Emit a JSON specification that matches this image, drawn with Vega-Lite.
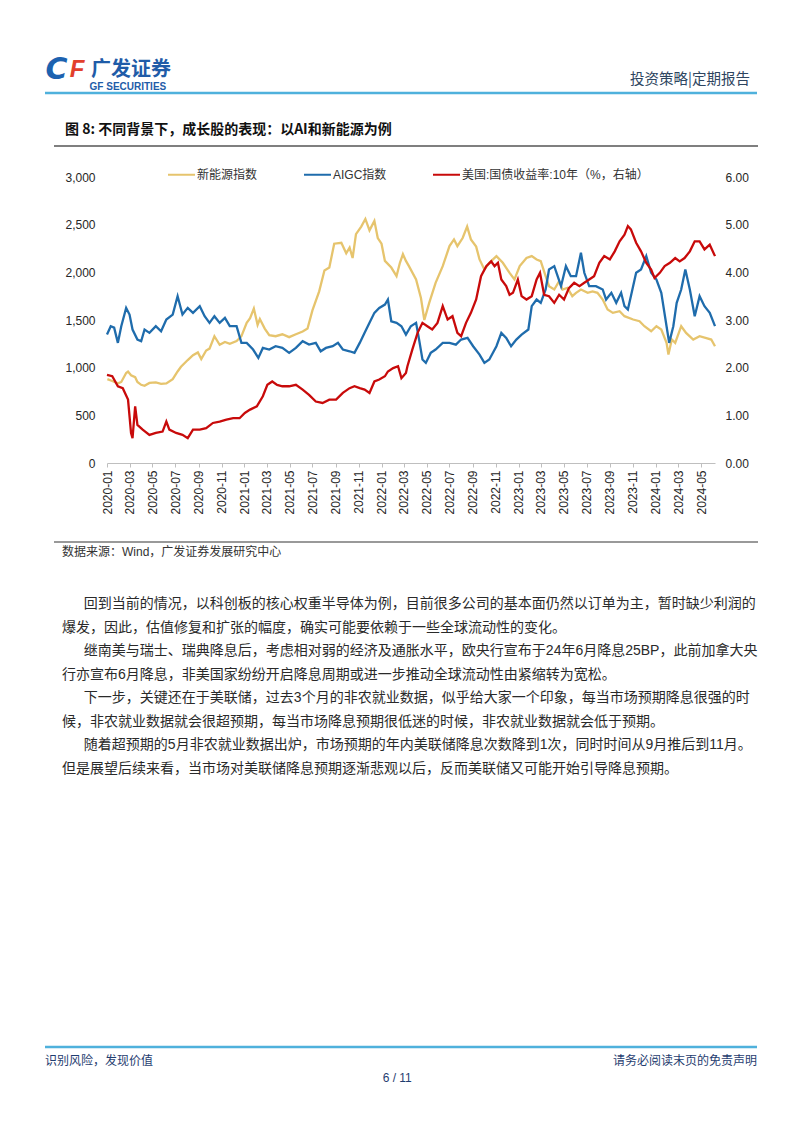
{
  "$schema": "https://vega.github.io/schema/vega-lite/v6.json",
  "background": "white",
  "padding": {"left": 43, "top": 45, "right": 0, "bottom": 0},
  "spacing": 0,
  "resolve": {"scale": {"color": "independent"}, "legend": {"color": "independent"}},
  "config": {
    "font": "Liberation Sans, Noto Sans CJK SC",
    "view": {"stroke": null},
    "axis": {"labelFont": "Liberation Sans, Noto Sans CJK SC", "labelColor": "#262626", "labelFontSize": 12},
    "legend": {"labelFont": "Liberation Sans, Noto Sans CJK SC", "labelColor": "#333333", "labelFontSize": 12}
  },
  "datasets": {
    "nev": [
      {"d":"2020/01/02","v":880},{"d":"2020/01/15","v":860},{"d":"2020/01/30","v":835},{"d":"2020/02/08","v":850},{"d":"2020/02/21","v":945},{"d":"2020/02/26","v":960},{"d":"2020/03/05","v":920},{"d":"2020/03/16","v":900},{"d":"2020/03/22","v":850},{"d":"2020/04/01","v":820},{"d":"2020/04/10","v":810},{"d":"2020/04/23","v":840},{"d":"2020/05/10","v":845},{"d":"2020/05/24","v":830},{"d":"2020/06/07","v":835},{"d":"2020/06/24","v":880},{"d":"2020/07/07","v":960},{"d":"2020/07/16","v":1010},{"d":"2020/08/03","v":1080},{"d":"2020/08/17","v":1130},{"d":"2020/08/30","v":1160},{"d":"2020/09/08","v":1090},{"d":"2020/09/21","v":1180},{"d":"2020/09/30","v":1200},{"d":"2020/10/13","v":1330},{"d":"2020/10/27","v":1240},{"d":"2020/11/10","v":1270},{"d":"2020/11/23","v":1250},{"d":"2020/12/11","v":1280},{"d":"2020/12/24","v":1330},
      {"d":"2021/01/07","v":1470},{"d":"2021/01/16","v":1520},{"d":"2021/01/26","v":1620},{"d":"2021/02/05","v":1450},{"d":"2021/02/11","v":1510},{"d":"2021/02/24","v":1410},{"d":"2021/03/08","v":1340},{"d":"2021/03/25","v":1330},{"d":"2021/04/12","v":1350},{"d":"2021/04/30","v":1320},{"d":"2021/05/18","v":1350},{"d":"2021/06/05","v":1380},{"d":"2021/06/18","v":1410},{"d":"2021/07/01","v":1600},{"d":"2021/07/19","v":1800},{"d":"2021/08/02","v":2020},{"d":"2021/08/15","v":2050},{"d":"2021/08/28","v":2300},{"d":"2021/09/16","v":2310},{"d":"2021/09/29","v":2200},{"d":"2021/10/08","v":2260},{"d":"2021/10/16","v":2150},{"d":"2021/10/25","v":2400},{"d":"2021/11/08","v":2480},{"d":"2021/11/19","v":2560},{"d":"2021/11/30","v":2440},{"d":"2021/12/13","v":2540},{"d":"2021/12/22","v":2360},
      {"d":"2022/01/01","v":2300},{"d":"2022/01/10","v":2120},{"d":"2022/01/27","v":2050},{"d":"2022/02/10","v":1960},{"d":"2022/02/19","v":2100},{"d":"2022/02/27","v":2190},{"d":"2022/03/07","v":2120},{"d":"2022/03/15","v":2065},{"d":"2022/04/03","v":1925},{"d":"2022/04/16","v":1730},{"d":"2022/04/25","v":1500},{"d":"2022/05/08","v":1680},{"d":"2022/05/25","v":1890},{"d":"2022/06/13","v":2065},{"d":"2022/07/01","v":2275},{"d":"2022/07/13","v":2345},{"d":"2022/07/22","v":2275},{"d":"2022/08/05","v":2360},{"d":"2022/08/17","v":2480},{"d":"2022/08/27","v":2345},{"d":"2022/09/10","v":2270},{"d":"2022/09/19","v":2135},{"d":"2022/10/02","v":2030},{"d":"2022/10/15","v":2100},{"d":"2022/11/03","v":2170},{"d":"2022/11/20","v":2100},{"d":"2022/12/08","v":1995},{"d":"2022/12/21","v":1925},
      {"d":"2023/01/04","v":2065},{"d":"2023/01/22","v":2150},{"d":"2023/02/05","v":2170},{"d":"2023/02/18","v":2135},{"d":"2023/03/01","v":2117},{"d":"2023/03/14","v":1960},{"d":"2023/03/23","v":1855},{"d":"2023/04/06","v":1820},{"d":"2023/04/19","v":1907},{"d":"2023/04/28","v":1820},{"d":"2023/05/11","v":1837},{"d":"2023/05/24","v":1750},{"d":"2023/06/03","v":1785},{"d":"2023/06/16","v":1820},{"d":"2023/07/04","v":1785},{"d":"2023/07/17","v":1800},{"d":"2023/07/30","v":1785},{"d":"2023/08/13","v":1715},{"d":"2023/08/26","v":1610},{"d":"2023/09/09","v":1575},{"d":"2023/09/27","v":1592},{"d":"2023/10/10","v":1540},{"d":"2023/11/02","v":1505},{"d":"2023/11/19","v":1487},{"d":"2023/12/02","v":1435},{"d":"2023/12/20","v":1382},
      {"d":"2024/01/03","v":1435},{"d":"2024/01/16","v":1400},{"d":"2024/01/30","v":1260},{"d":"2024/02/04","v":1137},{"d":"2024/02/13","v":1295},{"d":"2024/02/22","v":1260},{"d":"2024/03/09","v":1435},{"d":"2024/03/22","v":1365},{"d":"2024/04/10","v":1295},{"d":"2024/04/27","v":1330},{"d":"2024/05/15","v":1310},{"d":"2024/05/28","v":1295},{"d":"2024/06/07","v":1225}
    ],
    "aigc": [
      {"d":"2020/01/01","v":1347},{"d":"2020/01/11","v":1435},{"d":"2020/01/20","v":1420},{"d":"2020/01/30","v":1260},{"d":"2020/02/08","v":1435},{"d":"2020/02/21","v":1627},{"d":"2020/03/01","v":1557},{"d":"2020/03/09","v":1400},{"d":"2020/03/22","v":1295},{"d":"2020/04/01","v":1277},{"d":"2020/04/10","v":1400},{"d":"2020/04/23","v":1365},{"d":"2020/05/10","v":1435},{"d":"2020/05/24","v":1382},{"d":"2020/06/07","v":1505},{"d":"2020/06/24","v":1557},{"d":"2020/07/07","v":1750},{"d":"2020/07/20","v":1557},{"d":"2020/08/03","v":1627},{"d":"2020/08/17","v":1575},{"d":"2020/09/04","v":1645},{"d":"2020/09/17","v":1540},{"d":"2020/09/30","v":1470},{"d":"2020/10/13","v":1540},{"d":"2020/10/27","v":1470},{"d":"2020/11/10","v":1522},{"d":"2020/11/23","v":1435},{"d":"2020/12/11","v":1435},{"d":"2020/12/24","v":1260},
      {"d":"2021/01/07","v":1260},{"d":"2021/01/24","v":1190},{"d":"2021/02/07","v":1102},{"d":"2021/02/19","v":1207},{"d":"2021/03/08","v":1190},{"d":"2021/03/25","v":1225},{"d":"2021/04/12","v":1207},{"d":"2021/04/30","v":1155},{"d":"2021/05/18","v":1207},{"d":"2021/06/05","v":1277},{"d":"2021/06/22","v":1242},{"d":"2021/07/10","v":1260},{"d":"2021/07/23","v":1172},{"d":"2021/08/06","v":1207},{"d":"2021/08/24","v":1225},{"d":"2021/09/07","v":1260},{"d":"2021/09/20","v":1190},{"d":"2021/10/08","v":1172},{"d":"2021/10/21","v":1155},{"d":"2021/11/04","v":1260},{"d":"2021/11/17","v":1365},{"d":"2021/11/30","v":1470},{"d":"2021/12/13","v":1575},{"d":"2021/12/26","v":1627},
      {"d":"2022/01/10","v":1662},{"d":"2022/01/18","v":1715},{"d":"2022/01/27","v":1487},{"d":"2022/02/10","v":1470},{"d":"2022/02/23","v":1435},{"d":"2022/03/07","v":1347},{"d":"2022/03/20","v":1435},{"d":"2022/04/03","v":1470},{"d":"2022/04/11","v":1295},{"d":"2022/04/20","v":1085},{"d":"2022/04/29","v":1050},{"d":"2022/05/12","v":1155},{"d":"2022/05/25","v":1190},{"d":"2022/06/13","v":1260},{"d":"2022/07/01","v":1260},{"d":"2022/07/18","v":1242},{"d":"2022/08/01","v":1295},{"d":"2022/08/18","v":1312},{"d":"2022/09/02","v":1225},{"d":"2022/09/19","v":1137},{"d":"2022/10/02","v":1050},{"d":"2022/10/15","v":1085},{"d":"2022/11/03","v":1225},{"d":"2022/11/16","v":1365},{"d":"2022/11/29","v":1312},{"d":"2022/12/12","v":1225},{"d":"2022/12/26","v":1295},
      {"d":"2023/01/09","v":1347},{"d":"2023/01/27","v":1400},{"d":"2023/02/05","v":1645},{"d":"2023/02/18","v":1715},{"d":"2023/03/01","v":1680},{"d":"2023/03/14","v":1820},{"d":"2023/03/23","v":2030},{"d":"2023/04/06","v":2065},{"d":"2023/04/15","v":1960},{"d":"2023/04/24","v":1855},{"d":"2023/05/07","v":2065},{"d":"2023/05/20","v":1960},{"d":"2023/06/03","v":1960},{"d":"2023/06/16","v":2205},{"d":"2023/06/25","v":1995},{"d":"2023/07/08","v":1855},{"d":"2023/07/26","v":1855},{"d":"2023/08/13","v":1820},{"d":"2023/08/22","v":1715},{"d":"2023/09/05","v":1785},{"d":"2023/09/18","v":1680},{"d":"2023/10/01","v":1785},{"d":"2023/10/10","v":1645},{"d":"2023/10/19","v":1610},{"d":"2023/10/27","v":1750},{"d":"2023/11/10","v":1995},{"d":"2023/11/23","v":2030},{"d":"2023/12/07","v":2170},{"d":"2023/12/20","v":1995},
      {"d":"2024/01/03","v":1925},{"d":"2024/01/16","v":1785},{"d":"2024/01/30","v":1435},{"d":"2024/02/06","v":1260},{"d":"2024/02/17","v":1435},{"d":"2024/02/26","v":1680},{"d":"2024/03/09","v":1820},{"d":"2024/03/20","v":2030},{"d":"2024/04/01","v":1820},{"d":"2024/04/14","v":1540},{"d":"2024/04/27","v":1750},{"d":"2024/05/10","v":1645},{"d":"2024/05/24","v":1575},{"d":"2024/06/07","v":1435}
    ],
    "ust": [
      {"d":"2020/01/01","v":1.85},{"d":"2020/01/15","v":1.82},{"d":"2020/01/30","v":1.61},{"d":"2020/02/12","v":1.57},{"d":"2020/02/26","v":1.33},{"d":"2020/03/05","v":0.63},{"d":"2020/03/09","v":0.52},{"d":"2020/03/16","v":1.19},{"d":"2020/03/22","v":0.80},{"d":"2020/04/05","v":0.70},{"d":"2020/04/23","v":0.59},{"d":"2020/05/10","v":0.63},{"d":"2020/05/28","v":0.66},{"d":"2020/06/07","v":0.87},{"d":"2020/06/15","v":0.70},{"d":"2020/07/03","v":0.63},{"d":"2020/07/20","v":0.59},{"d":"2020/08/03","v":0.52},{"d":"2020/08/17","v":0.70},{"d":"2020/09/04","v":0.70},{"d":"2020/09/21","v":0.73},{"d":"2020/10/09","v":0.84},{"d":"2020/10/27","v":0.87},{"d":"2020/11/14","v":0.91},{"d":"2020/12/02","v":0.94},{"d":"2020/12/19","v":0.94},
      {"d":"2021/01/02","v":1.05},{"d":"2021/01/16","v":1.12},{"d":"2021/02/03","v":1.19},{"d":"2021/02/19","v":1.40},{"d":"2021/03/03","v":1.64},{"d":"2021/03/16","v":1.71},{"d":"2021/03/29","v":1.64},{"d":"2021/04/12","v":1.61},{"d":"2021/04/30","v":1.61},{"d":"2021/05/18","v":1.64},{"d":"2021/06/05","v":1.54},{"d":"2021/06/22","v":1.43},{"d":"2021/07/10","v":1.29},{"d":"2021/07/28","v":1.26},{"d":"2021/08/15","v":1.33},{"d":"2021/09/02","v":1.33},{"d":"2021/09/20","v":1.47},{"d":"2021/10/08","v":1.57},{"d":"2021/10/21","v":1.61},{"d":"2021/11/04","v":1.57},{"d":"2021/11/17","v":1.54},{"d":"2021/11/30","v":1.47},{"d":"2021/12/13","v":1.71},{"d":"2021/12/26","v":1.75},
      {"d":"2022/01/10","v":1.82},{"d":"2022/01/18","v":1.92},{"d":"2022/02/01","v":1.99},{"d":"2022/02/14","v":2.03},{"d":"2022/02/23","v":1.78},{"d":"2022/03/07","v":1.89},{"d":"2022/03/11","v":2.03},{"d":"2022/03/24","v":2.38},{"d":"2022/04/07","v":2.73},{"d":"2022/04/20","v":2.94},{"d":"2022/05/03","v":2.87},{"d":"2022/05/16","v":2.80},{"d":"2022/05/30","v":2.94},{"d":"2022/06/13","v":3.29},{"d":"2022/06/26","v":3.01},{"d":"2022/07/09","v":3.08},{"d":"2022/07/22","v":2.73},{"d":"2022/08/01","v":2.66},{"d":"2022/08/14","v":2.94},{"d":"2022/08/27","v":3.15},{"d":"2022/09/10","v":3.43},{"d":"2022/09/23","v":3.92},{"d":"2022/10/07","v":4.13},{"d":"2022/10/20","v":4.23},{"d":"2022/10/29","v":4.13},{"d":"2022/11/07","v":4.20},{"d":"2022/11/16","v":3.85},{"d":"2022/11/29","v":3.71},{"d":"2022/12/08","v":3.53},{"d":"2022/12/17","v":3.57},{"d":"2022/12/30","v":3.85},
      {"d":"2023/01/09","v":3.50},{"d":"2023/01/22","v":3.43},{"d":"2023/02/05","v":3.50},{"d":"2023/02/18","v":3.85},{"d":"2023/02/27","v":3.99},{"d":"2023/03/10","v":3.53},{"d":"2023/03/23","v":3.50},{"d":"2023/04/06","v":3.36},{"d":"2023/04/19","v":3.53},{"d":"2023/05/02","v":3.43},{"d":"2023/05/15","v":3.67},{"d":"2023/05/29","v":3.78},{"d":"2023/06/12","v":3.71},{"d":"2023/06/25","v":3.78},{"d":"2023/07/08","v":3.85},{"d":"2023/07/21","v":3.92},{"d":"2023/08/04","v":4.20},{"d":"2023/08/17","v":4.34},{"d":"2023/09/01","v":4.27},{"d":"2023/09/14","v":4.44},{"d":"2023/09/27","v":4.65},{"d":"2023/10/10","v":4.79},{"d":"2023/10/19","v":4.97},{"d":"2023/10/27","v":4.90},{"d":"2023/11/10","v":4.62},{"d":"2023/11/23","v":4.44},{"d":"2023/12/07","v":4.20},{"d":"2023/12/20","v":4.06},{"d":"2023/12/29","v":3.88},
      {"d":"2024/01/12","v":3.99},{"d":"2024/01/25","v":4.13},{"d":"2024/02/08","v":4.20},{"d":"2024/02/22","v":4.30},{"d":"2024/03/05","v":4.23},{"d":"2024/03/18","v":4.30},{"d":"2024/04/01","v":4.44},{"d":"2024/04/14","v":4.65},{"d":"2024/04/27","v":4.65},{"d":"2024/05/10","v":4.48},{"d":"2024/05/24","v":4.58},{"d":"2024/06/07","v":4.34}
    ],
    "body": [
      {"line":1,"first":true,"text":"回到当前的情况，以科创板的核心权重半导体为例，目前很多公司的基本面仍然以订单为主，暂时缺少利润的"},
      {"line":2,"first":false,"text":"爆发，因此，估值修复和扩张的幅度，确实可能要依赖于一些全球流动性的变化。"},
      {"line":3,"first":true,"text":"继南美与瑞士、瑞典降息后，考虑相对弱的经济及通胀水平，欧央行宣布于24年6月降息25BP，此前加拿大央"},
      {"line":4,"first":false,"text":"行亦宣布6月降息，非美国家纷纷开启降息周期或进一步推动全球流动性由紧缩转为宽松。"},
      {"line":5,"first":true,"text":"下一步，关键还在于美联储，过去3个月的非农就业数据，似乎给大家一个印象，每当市场预期降息很强的时"},
      {"line":6,"first":false,"text":"候，非农就业数据就会很超预期，每当市场降息预期很低迷的时候，非农就业数据就会低于预期。"},
      {"line":7,"first":true,"text":"随着超预期的5月非农就业数据出炉，市场预期的年内美联储降息次数降到1次，同时时间从9月推后到11月。"},
      {"line":8,"first":false,"text":"但是展望后续来看，当市场对美联储降息预期逐渐悲观以后，反而美联储又可能开始引导降息预期。"}
    ]
  },
  "vconcat": [
    {
      "width": 713, "height": 55,
      "data": {"values": [{}]},
      "layer": [
        {"mark": {"type": "text", "align": "center", "baseline": "middle", "fontSize": 30, "fontWeight": "bold", "fontStyle": "italic", "font": "DejaVu Sans", "color": "#1c62b0"},
         "encoding": {"x": {"datum": 0.016, "type": "quantitative", "scale": {"domain": [0, 1], "nice": false, "zero": false}, "axis": null}, "y": {"datum": 0.45, "type": "quantitative", "scale": {"domain": [0, 1], "reverse": true, "nice": false, "zero": false}, "axis": null}, "text": {"value": "C"}}},
        {"mark": {"type": "text", "align": "center", "baseline": "middle", "fontSize": 24, "fontWeight": "bold", "fontStyle": "italic", "font": "Liberation Sans", "color": "#e2402c"},
         "encoding": {"x": {"datum": 0.045, "type": "quantitative", "scale": {"domain": [0, 1], "nice": false, "zero": false}, "axis": null}, "y": {"datum": 0.45, "type": "quantitative", "scale": {"domain": [0, 1], "reverse": true, "nice": false, "zero": false}, "axis": null}, "text": {"value": "F"}}},
        {"mark": {"type": "text", "align": "left", "baseline": "middle", "fontSize": 20, "fontWeight": "bold", "font": "Noto Sans CJK SC", "color": "#1f5ca8"},
         "encoding": {"x": {"datum": 0.0645, "type": "quantitative", "scale": {"domain": [0, 1], "nice": false, "zero": false}, "axis": null}, "y": {"datum": 0.4545, "type": "quantitative", "scale": {"domain": [0, 1], "reverse": true, "nice": false, "zero": false}, "axis": null}, "text": {"value": "广发证券"}}},
        {"mark": {"type": "text", "align": "left", "baseline": "middle", "fontSize": 10, "fontWeight": "bold", "font": "Liberation Sans", "color": "#1f5ca8"},
         "encoding": {"x": {"datum": 0.0625, "type": "quantitative", "scale": {"domain": [0, 1], "nice": false, "zero": false}, "axis": null}, "y": {"datum": 0.76, "type": "quantitative", "scale": {"domain": [0, 1], "reverse": true, "nice": false, "zero": false}, "axis": null}, "text": {"value": "GF SECURITIES"}}},
        {"mark": {"type": "text", "align": "right", "baseline": "middle", "fontSize": 14.5, "font": "Noto Sans CJK SC", "color": "#2e4560"},
         "encoding": {"x": {"datum": 0.9888, "type": "quantitative", "scale": {"domain": [0, 1], "nice": false, "zero": false}, "axis": null}, "y": {"datum": 0.636, "type": "quantitative", "scale": {"domain": [0, 1], "reverse": true, "nice": false, "zero": false}, "axis": null}, "text": {"value": "投资策略|定期报告"}}},
        {"mark": {"type": "rule", "color": "#4fb1dc", "strokeWidth": 2.5},
         "encoding": {"x": {"datum": 0, "type": "quantitative", "scale": {"domain": [0, 1], "nice": false, "zero": false}, "axis": null}, "x2": {"datum": 0.9986}, "y": {"datum": 0.873, "type": "quantitative", "scale": {"domain": [0, 1], "reverse": true, "nice": false, "zero": false}, "axis": null}}}
      ]
    },
    {
      "width": 713, "height": 60,
      "data": {"values": [{}]},
      "layer": [
        {"mark": {"type": "text", "align": "left", "baseline": "middle", "fontSize": 14, "fontWeight": "bold", "font": "Noto Sans CJK SC", "color": "#111111"},
         "encoding": {"x": {"datum": 0.028, "type": "quantitative", "scale": {"domain": [0, 1], "nice": false, "zero": false}, "axis": null}, "y": {"datum": 0.5, "type": "quantitative", "scale": {"domain": [0, 1], "reverse": true, "nice": false, "zero": false}, "axis": null}, "text": {"value": "图 8: 不同背景下，成长股的表现：以AI和新能源为例"}}},
        {"mark": {"type": "rule", "color": "#555555", "strokeWidth": 1.5},
         "encoding": {"x": {"datum": 0.0126, "type": "quantitative", "scale": {"domain": [0, 1], "nice": false, "zero": false}, "axis": null}, "x2": {"datum": 1}, "y": {"datum": 0.767, "type": "quantitative", "scale": {"domain": [0, 1], "reverse": true, "nice": false, "zero": false}, "axis": null}}}
      ]
    },
    {
      "spacing": 0,
      "resolve": {"scale": {"color": "independent"}, "legend": {"color": "independent"}},
      "hconcat": [
        {"width": 19, "height": 1, "data": {"values": [{}]}, "mark": {"type": "text"}, "encoding": {"text": {"value": ""}}},
        {
          "width": 608, "height": 286,
          "encoding": {
            "x": {"field": "d", "type": "temporal",
              "scale": {"domain": [{"year": 2020, "month": 1, "date": 1}, {"year": 2024, "month": 6, "date": 7}]},
              "axis": {"title": null, "format": "%Y-%m", "labelAngle": -90, "grid": false, "domainColor": "#bfbfbf", "tickColor": "#bfbfbf", "tickSize": 4, "labelPadding": 3, "labelFlush": false, "labelOverlap": false,
                "values": [{"year":2020,"month":1,"date":1},{"year":2020,"month":3,"date":1},{"year":2020,"month":5,"date":1},{"year":2020,"month":7,"date":1},{"year":2020,"month":9,"date":1},{"year":2020,"month":11,"date":1},{"year":2021,"month":1,"date":1},{"year":2021,"month":3,"date":1},{"year":2021,"month":5,"date":1},{"year":2021,"month":7,"date":1},{"year":2021,"month":9,"date":1},{"year":2021,"month":11,"date":1},{"year":2022,"month":1,"date":1},{"year":2022,"month":3,"date":1},{"year":2022,"month":5,"date":1},{"year":2022,"month":7,"date":1},{"year":2022,"month":9,"date":1},{"year":2022,"month":11,"date":1},{"year":2023,"month":1,"date":1},{"year":2023,"month":3,"date":1},{"year":2023,"month":5,"date":1},{"year":2023,"month":7,"date":1},{"year":2023,"month":9,"date":1},{"year":2023,"month":11,"date":1},{"year":2024,"month":1,"date":1},{"year":2024,"month":3,"date":1},{"year":2024,"month":5,"date":1}]}}
          },
          "layer": [
            {"data": {"name": "nev"}, "mark": {"type": "line", "strokeWidth": 2.3},
             "encoding": {
               "y": {"field": "v", "type": "quantitative", "scale": {"domain": [0, 3000], "nice": false}, "axis": {"title": null, "orient": "left", "values": [0, 500, 1000, 1500, 2000, 2500, 3000], "format": ",.0f", "grid": false, "domain": false, "ticks": false, "labelPadding": 12}},
               "color": {"datum": "新能源指数", "type": "nominal",
                 "scale": {"domain": ["新能源指数", "AIGC指数", "美国:国债收益率:10年（%，右轴）"], "range": ["#e6c46d", "#1f6cac", "#c80a0a"]},
                 "legend": {"title": null, "orient": "none", "legendX": 60, "legendY": -17, "direction": "horizontal", "columns": 3, "symbolType": "stroke", "symbolSize": 729, "symbolStrokeWidth": 2, "labelOffset": 1, "columnPadding": 42, "padding": 0, "labelLimit": 300}}
             }},
            {"data": {"name": "aigc"}, "mark": {"type": "line", "strokeWidth": 2.3},
             "encoding": {
               "y": {"field": "v", "type": "quantitative", "scale": {"domain": [0, 3000], "nice": false}, "axis": null},
               "color": {"datum": "AIGC指数", "type": "nominal"}
             }},
            {"data": {"name": "ust"}, "mark": {"type": "line", "strokeWidth": 2.3},
             "encoding": {
               "y": {"field": "v", "type": "quantitative", "scale": {"domain": [0, 6], "nice": false}, "axis": {"title": null, "orient": "right", "values": [0, 1, 2, 3, 4, 5, 6], "format": ".2f", "grid": false, "domain": false, "ticks": false, "labelPadding": 10}},
               "color": {"datum": "美国:国债收益率:10年（%，右轴）", "type": "nominal"}
             }}
          ],
          "resolve": {"scale": {"y": "independent"}}
        }
      ]
    },
    {
      "width": 713, "height": 60,
      "data": {"values": [{}]},
      "layer": [
        {"mark": {"type": "rule", "color": "#777777", "strokeWidth": 1.5},
         "encoding": {"x": {"datum": 0.0126, "type": "quantitative", "scale": {"domain": [0, 1], "nice": false, "zero": false}, "axis": null}, "x2": {"datum": 1}, "y": {"datum": 0.45, "type": "quantitative", "scale": {"domain": [0, 1], "reverse": true, "nice": false, "zero": false}, "axis": null}}},
        {"mark": {"type": "text", "align": "left", "baseline": "middle", "fontSize": 12, "font": "Liberation Sans, Noto Sans CJK SC", "color": "#333333"},
         "encoding": {"x": {"datum": 0.0238, "type": "quantitative", "scale": {"domain": [0, 1], "nice": false, "zero": false}, "axis": null}, "y": {"datum": 0.617, "type": "quantitative", "scale": {"domain": [0, 1], "reverse": true, "nice": false, "zero": false}, "axis": null}, "text": {"value": "数据来源：Wind，广发证券发展研究中心"}}}
      ]
    },
    {
      "width": 713, "height": 466,
      "data": {"name": "body"},
      "layer": [
        {"transform": [{"filter": "datum.first"}],
         "mark": {"type": "text", "align": "left", "baseline": "middle", "fontSize": 14, "font": "Liberation Sans, Noto Sans CJK SC", "color": "#2a2a2a"},
         "encoding": {
           "x": {"datum": 0.0545, "type": "quantitative", "scale": {"domain": [0, 1], "nice": false, "zero": false}, "axis": null},
           "y": {"field": "line", "type": "quantitative", "scale": {"domain": [-0.23, 19.54], "reverse": true, "nice": false, "zero": false}, "axis": null},
           "text": {"field": "text"}
         }},
        {"transform": [{"filter": "!datum.first"}],
         "mark": {"type": "text", "align": "left", "baseline": "middle", "fontSize": 14, "font": "Liberation Sans, Noto Sans CJK SC", "color": "#2a2a2a"},
         "encoding": {
           "x": {"datum": 0.0238, "type": "quantitative", "scale": {"domain": [0, 1], "nice": false, "zero": false}, "axis": null},
           "y": {"field": "line", "type": "quantitative", "scale": {"domain": [-0.23, 19.54], "reverse": true, "nice": false, "zero": false}, "axis": null},
           "text": {"field": "text"}
         }}
      ]
    },
    {
      "width": 713, "height": 50,
      "data": {"values": [{}]},
      "layer": [
        {"mark": {"type": "rule", "color": "#4fb1dc", "strokeWidth": 2.5},
         "encoding": {"x": {"datum": 0, "type": "quantitative", "scale": {"domain": [0, 1], "nice": false, "zero": false}, "axis": null}, "x2": {"datum": 0.9986}, "y": {"datum": 0.12, "type": "quantitative", "scale": {"domain": [0, 1], "reverse": true, "nice": false, "zero": false}, "axis": null}}},
        {"mark": {"type": "text", "align": "left", "baseline": "middle", "fontSize": 12, "font": "Noto Sans CJK SC", "color": "#1f3d70"},
         "encoding": {"x": {"datum": 0, "type": "quantitative", "scale": {"domain": [0, 1], "nice": false, "zero": false}, "axis": null}, "y": {"datum": 0.4, "type": "quantitative", "scale": {"domain": [0, 1], "reverse": true, "nice": false, "zero": false}, "axis": null}, "text": {"value": "识别风险，发现价值"}}},
        {"mark": {"type": "text", "align": "right", "baseline": "middle", "fontSize": 12, "font": "Noto Sans CJK SC", "color": "#1f3d70"},
         "encoding": {"x": {"datum": 0.9986, "type": "quantitative", "scale": {"domain": [0, 1], "nice": false, "zero": false}, "axis": null}, "y": {"datum": 0.4, "type": "quantitative", "scale": {"domain": [0, 1], "reverse": true, "nice": false, "zero": false}, "axis": null}, "text": {"value": "请务必阅读末页的免责声明"}}},
        {"mark": {"type": "text", "align": "center", "baseline": "middle", "fontSize": 12, "font": "Liberation Sans Narrow, Liberation Sans", "color": "#1f3d70"},
         "encoding": {"x": {"datum": 0.494, "type": "quantitative", "scale": {"domain": [0, 1], "nice": false, "zero": false}, "axis": null}, "y": {"datum": 0.74, "type": "quantitative", "scale": {"domain": [0, 1], "reverse": true, "nice": false, "zero": false}, "axis": null}, "text": {"value": "6 / 11"}}}
      ]
    }
  ]
}
